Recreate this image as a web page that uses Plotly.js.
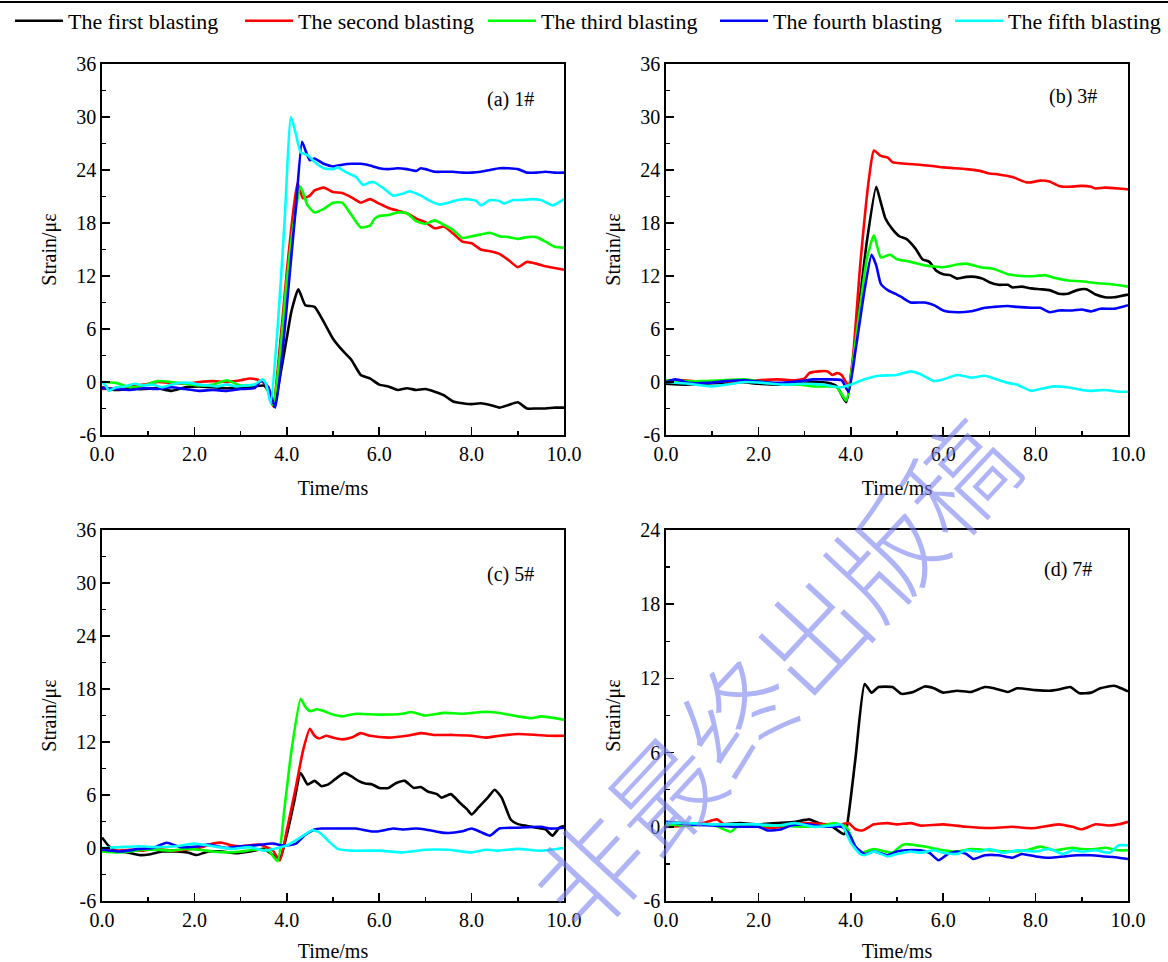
<!DOCTYPE html>
<html>
<head>
<meta charset="utf-8">
<script src="https://cdn.plot.ly/plotly-3.0.1.min.js"></script>
<style>
  html, body { margin: 0; padding: 0; background: #fff; }
  #chart { width: 1168px; height: 962px; }
</style>
</head>
<body>
<div id="chart"></div>
<script>
// ---------- Data (Time in ms, Strain in microstrain) ----------
const seriesNames = ["The first blasting", "The second blasting", "The third blasting", "The fourth blasting", "The fifth blasting"];
const panelLabels = ["(a) 1#", "(b) 3#", "(c) 5#", "(d) 7#"];
const xTickVals = [0, 2, 4, 6, 8, 10];
const xTickText = ["0.0", "2.0", "4.0", "6.0", "8.0", "10.0"];
const yTickValsABC = [-6, 0, 6, 12, 18, 24, 30, 36];
const yTickTextABC = ["-6", "0", "6", "12", "18", "24", "30", "36"];
const yTickValsD = [-6, 0, 6, 12, 18, 24];
const yTickTextD = ["-6", "0", "6", "12", "18", "24"];

// Panel (a) 1#
const a1_t = [0,0.3,0.6,0.9,1.2,1.5,1.8,2.1,2.4,2.7,3.0,3.3,3.5,3.6,3.72,3.85,4.0,4.1,4.25,4.4,4.6,4.8,5.0,5.2,5.4,5.6,5.8,6.0,6.2,6.4,6.6,6.8,7.0,7.2,7.4,7.6,7.8,8.0,8.2,8.4,8.6,8.8,9.0,9.2,9.4,9.6,9.8,10];
const a1_y = [-0.6,-0.9,-0.8,-0.8,-0.7,-1.0,-0.6,-0.5,-0.6,-0.7,-0.6,-0.5,-0.4,-1.0,-2.8,0.5,5.0,8.0,10.5,8.7,8.5,6.8,4.9,3.6,2.5,0.8,0.4,-0.3,-0.5,-0.9,-0.7,-0.9,-0.8,-1.1,-1.5,-2.2,-2.4,-2.5,-2.4,-2.6,-2.9,-2.6,-2.3,-3.0,-3.0,-3.0,-2.9,-2.9];
const a2_t = [0,0.3,0.6,0.9,1.2,1.5,1.8,2.1,2.4,2.7,3.0,3.2,3.4,3.55,3.7,3.85,4.0,4.1,4.23,4.35,4.5,4.6,4.8,5.0,5.2,5.4,5.6,5.8,6.0,6.2,6.4,6.6,6.8,7.0,7.2,7.4,7.6,7.8,8.0,8.2,8.4,8.6,8.8,9.0,9.2,9.4,9.6,9.8,10];
const a2_y = [-0.8,-0.7,-0.5,-0.3,0.0,-0.1,-0.2,0.0,0.1,0.0,0.2,0.4,0.2,-0.3,-2.7,4.0,12.5,17.5,22.5,20.8,21.1,21.7,22.0,21.5,21.4,20.9,20.3,20.7,20.2,19.7,19.4,19.1,18.5,18.1,17.4,17.6,16.8,15.9,15.7,15.0,14.8,14.5,13.8,13.0,13.6,13.4,13.1,12.9,12.7];
const a3_t = [0,0.3,0.6,0.9,1.2,1.5,1.8,2.1,2.4,2.7,3.0,3.3,3.5,3.7,3.85,4.0,4.15,4.3,4.45,4.6,4.8,5.0,5.2,5.4,5.6,5.8,5.9,6.0,6.2,6.4,6.6,6.8,7.0,7.2,7.4,7.6,7.8,8.0,8.2,8.4,8.6,8.8,9.0,9.2,9.4,9.6,9.8,10];
const a3_y = [0.0,-0.1,-0.6,-0.4,0.1,0.0,-0.2,-0.4,-0.3,0.2,-0.4,-0.3,0.2,-2.6,3.0,11.5,18.0,22.1,20.0,19.2,19.6,20.3,20.3,18.9,17.5,17.7,18.5,18.8,18.9,19.2,19.1,18.2,17.9,18.3,17.8,17.2,16.3,16.5,16.7,16.9,16.5,16.4,16.2,16.4,16.4,15.9,15.3,15.2];
const a4_t = [0,0.3,0.6,0.9,1.2,1.5,1.8,2.1,2.4,2.7,3.0,3.3,3.45,3.6,3.75,3.9,4.05,4.2,4.33,4.42,4.5,4.6,4.8,5.0,5.2,5.4,5.6,5.8,6.0,6.2,6.4,6.6,6.8,6.9,7.0,7.2,7.4,7.6,7.8,8.0,8.2,8.4,8.6,8.8,9.0,9.2,9.4,9.6,9.8,10];
const a4_y = [-0.7,-0.8,-0.9,-0.7,-0.8,-0.6,-0.8,-1.0,-0.9,-1.0,-0.8,-0.7,0.2,-0.6,-2.9,3.0,11.5,20.0,27.2,26.0,25.1,25.3,24.7,24.4,24.6,24.7,24.7,24.5,24.2,24.1,24.2,24.1,23.9,24.2,24.1,23.8,23.8,23.8,23.7,23.7,23.8,24.0,24.2,24.2,24.1,23.7,23.7,23.8,23.7,23.7];
const a5_t = [0,0.08,0.15,0.3,0.5,0.7,0.9,1.1,1.3,1.5,1.7,1.9,2.1,2.3,2.5,2.7,2.9,3.1,3.3,3.47,3.55,3.65,3.8,3.95,4.09,4.2,4.3,4.45,4.6,4.8,5.0,5.1,5.3,5.5,5.65,5.8,5.9,6.1,6.3,6.5,6.65,6.9,7.1,7.3,7.5,7.7,7.9,8.1,8.2,8.4,8.6,8.7,8.9,9.1,9.3,9.5,9.75,10];
const a5_y = [0.0,-0.4,-1.0,-0.6,-0.5,-0.2,-0.4,-0.3,-0.6,-0.3,-0.1,-0.1,-0.3,-0.4,-0.5,-0.3,-0.5,-0.4,-0.3,0.3,-0.2,-2.4,6.0,18.0,30.0,28.0,26.0,25.7,24.9,24.2,24.1,24.3,23.7,23.2,22.3,22.6,22.6,21.9,21.1,21.3,21.6,21.1,20.5,20.1,20.3,20.6,20.7,20.5,20.0,20.6,20.5,20.2,20.6,20.6,20.7,20.6,20.0,20.7];

// Panel (b) 3#
const b1_t = [0,0.4,0.8,1.2,1.6,2.0,2.4,2.8,3.2,3.5,3.7,3.9,4.05,4.2,4.35,4.55,4.65,4.75,4.9,5.05,5.2,5.4,5.55,5.7,5.85,6.0,6.15,6.3,6.5,6.7,6.85,7.0,7.2,7.4,7.5,7.7,7.9,8.1,8.3,8.5,8.7,8.9,9.1,9.3,9.5,9.7,10];
const b1_y = [-0.2,-0.3,-0.2,-0.1,0.0,-0.2,-0.3,-0.2,0.0,-0.1,-0.5,-2.3,2.5,9.5,16.0,22.1,20.3,18.5,17.3,16.5,16.2,15.1,13.9,13.6,12.6,12.2,12.1,11.7,11.9,11.9,11.7,11.3,11.0,11.0,10.7,10.8,10.6,10.5,10.4,10.0,10.0,10.4,10.5,9.9,9.6,9.6,9.9];
const b2_t = [0,0.4,0.8,1.2,1.6,2.0,2.4,2.8,3.0,3.1,3.3,3.5,3.6,3.7,3.8,3.95,4.05,4.2,4.4,4.5,4.65,4.8,4.9,5.2,5.5,6.0,6.5,6.8,7.0,7.2,7.5,7.8,7.9,8.1,8.3,8.5,8.7,9.0,9.2,9.3,9.5,9.8,10];
const b2_y = [0.2,0.2,0.0,0.1,0.0,0.2,0.3,0.2,0.4,1.0,1.2,1.2,0.8,1.0,0.8,-0.4,3.0,13.0,23.3,26.2,25.6,25.4,24.9,24.7,24.6,24.3,24.1,23.9,23.6,23.5,23.2,22.6,22.6,22.8,22.7,22.2,22.1,22.2,22.1,21.9,22.0,21.9,21.8];
const b3_t = [0,0.4,0.8,1.2,1.7,2.1,2.5,2.9,3.2,3.5,3.7,3.9,4.05,4.2,4.35,4.5,4.65,4.85,5.0,5.3,5.6,6.0,6.3,6.5,6.8,7.1,7.4,7.7,8.0,8.2,8.4,8.7,9.0,9.3,9.6,10];
const b3_y = [0.2,0.1,0.1,0.2,0.3,0.0,-0.2,-0.3,-0.5,-0.5,-0.6,-2.1,2.5,8.5,14.0,16.6,14.1,14.4,13.9,13.6,13.2,13.0,13.3,13.4,13.0,12.8,12.2,12.0,12.0,12.1,11.8,11.5,11.4,11.2,11.1,10.8];
const b4_t = [0,0.2,0.5,0.9,1.3,1.7,2.1,2.5,2.9,3.2,3.5,3.8,3.95,4.1,4.3,4.45,4.55,4.65,4.8,5.0,5.1,5.3,5.6,5.8,6.0,6.3,6.6,6.9,7.1,7.4,7.6,7.9,8.1,8.3,8.5,8.8,9.0,9.2,9.4,9.7,10];
const b4_y = [0.0,0.3,-0.1,-0.1,0.1,0.2,0.0,-0.1,0.1,0.3,0.3,0.2,-1.1,3.5,10.5,14.4,13.2,11.1,10.4,9.9,9.6,9.0,9.0,8.7,8.1,7.9,8.0,8.4,8.5,8.6,8.5,8.4,8.4,7.9,8.1,8.1,8.2,8.0,8.3,8.3,8.7];
const b5_t = [0,0.5,1.0,1.3,1.7,2.1,2.5,3.0,3.4,3.8,4.0,4.3,4.6,5.0,5.3,5.5,5.8,6.0,6.3,6.6,6.9,7.1,7.4,7.6,7.9,8.1,8.4,8.7,9.0,9.2,9.5,9.8,10];
const b5_y = [0.0,-0.2,-0.5,-0.3,0.0,-0.1,-0.3,-0.2,-0.3,-0.6,-0.3,0.3,0.7,0.8,1.2,0.9,0.1,0.3,0.8,0.5,0.7,0.4,-0.1,-0.3,-1.0,-0.8,-0.5,-0.6,-0.9,-1.0,-0.9,-1.1,-1.1];

// Panel (c) 5#
const c1_t = [0,0.15,0.3,0.55,0.8,1.05,1.3,1.6,1.85,2.05,2.3,2.6,2.9,3.2,3.5,3.7,3.85,4.0,4.15,4.3,4.45,4.6,4.75,4.9,5.05,5.25,5.4,5.55,5.7,5.85,6.0,6.2,6.35,6.55,6.75,6.9,7.05,7.25,7.35,7.55,7.75,7.9,8.0,8.15,8.35,8.5,8.65,8.85,9.0,9.2,9.4,9.6,9.75,9.9,10];
const c1_y = [1.2,0.2,-0.3,-0.5,-0.8,-0.7,-0.4,-0.4,-0.5,-0.8,-0.4,-0.4,-0.6,-0.4,-0.1,-0.8,-1.2,1.5,5.0,8.5,7.2,7.6,7.0,7.2,7.8,8.5,8.1,7.6,7.3,7.2,6.8,6.8,7.3,7.6,6.8,6.9,6.4,6.1,5.7,6.1,5.1,4.4,3.8,4.6,5.7,6.6,5.7,3.2,2.7,2.5,2.3,2.1,1.4,2.3,2.5];
const c2_t = [0,0.3,0.6,0.9,1.2,1.5,1.8,2.1,2.4,2.6,2.8,3.0,3.2,3.4,3.6,3.7,3.85,4.0,4.2,4.35,4.5,4.6,4.7,4.85,5.0,5.2,5.4,5.6,5.8,6.2,6.6,6.9,7.2,7.6,8.0,8.3,8.6,9.0,9.4,9.7,10];
const c2_y = [-0.3,-0.3,-0.2,-0.3,-0.1,-0.3,-0.2,0.0,0.5,0.6,0.3,0.2,0.3,0.4,0.0,-0.3,-1.4,2.0,7.0,11.0,13.5,12.7,12.4,12.7,12.5,12.3,12.5,13.0,12.7,12.5,12.7,13.0,12.8,12.8,12.7,12.5,12.7,12.9,12.8,12.7,12.7];
const c3_t = [0,0.3,0.6,0.9,1.2,1.5,1.8,2.1,2.4,2.7,3.0,3.3,3.6,3.8,3.95,4.1,4.3,4.4,4.5,4.65,4.8,5.0,5.2,5.5,6.0,6.5,6.7,7.0,7.4,7.8,8.2,8.4,8.7,9.0,9.3,9.5,9.8,10];
const c3_y = [-0.4,-0.5,-0.4,-0.2,-0.2,-0.3,-0.1,-0.2,-0.4,-0.5,-0.4,-0.2,-0.3,-1.5,4.5,11.0,16.9,16.0,15.5,15.7,15.5,15.1,14.9,15.2,15.1,15.2,15.4,15.0,15.3,15.2,15.4,15.4,15.2,14.9,14.7,14.9,14.7,14.5];
const c4_t = [0,0.4,0.8,1.1,1.4,1.7,2.1,2.3,2.7,3.0,3.3,3.7,3.9,4.0,4.2,4.4,4.6,4.75,5.0,5.5,5.8,6.0,6.3,6.5,6.8,7.0,7.3,7.5,7.8,8.0,8.2,8.4,8.6,9.0,9.5,9.7,10];
const c4_y = [-0.2,-0.4,-0.1,0.0,0.6,0.1,0.2,0.4,0.0,0.2,0.3,0.5,0.3,0.3,0.5,1.5,2.1,2.2,2.2,2.2,1.9,1.9,2.2,2.1,2.2,2.1,1.8,1.7,1.9,2.2,1.8,1.4,2.2,2.3,2.4,2.2,2.3];
const c5_t = [0,0.4,0.8,1.2,1.6,2.0,2.4,2.8,3.2,3.5,3.8,4.0,4.3,4.55,4.7,4.9,5.1,5.4,6.0,6.5,7.0,7.5,8.0,8.3,8.6,9.0,9.5,10];
const c5_y = [0.0,0.1,0.2,0.1,0.2,0.5,0.2,-0.1,0.1,-0.3,0.0,0.3,1.2,2.0,1.8,0.8,-0.1,-0.3,-0.3,-0.5,-0.2,-0.2,-0.5,-0.2,-0.3,-0.1,-0.3,0.0];

// Panel (d) 7#
const d1_t = [0,0.4,0.8,1.2,1.6,2.0,2.4,2.8,3.1,3.3,3.6,3.85,3.9,4.1,4.3,4.45,4.6,4.9,5.1,5.35,5.6,5.8,6.0,6.3,6.6,6.9,7.1,7.4,7.6,8.0,8.3,8.5,8.75,8.95,9.2,9.4,9.7,9.85,10];
const d1_y = [0.3,0.3,0.2,0.2,0.3,0.2,0.3,0.4,0.6,0.3,0.0,-0.6,-0.3,5.5,11.55,10.85,11.3,11.3,10.75,10.9,11.35,11.2,10.85,11.0,10.9,11.3,11.2,10.9,11.2,11.05,11.0,11.1,11.3,10.8,10.85,11.2,11.4,11.2,10.95];
const d2_t = [0,0.5,0.8,1.1,1.3,1.7,2.0,2.3,2.7,3.0,3.5,3.8,3.95,4.1,4.25,4.5,4.8,5.0,5.3,5.5,6.0,6.5,7.0,7.5,7.8,8.0,8.5,8.8,9.0,9.3,9.6,9.8,10];
const d2_y = [0.0,0.1,0.3,0.6,0.1,0.2,0.0,-0.1,0.1,0.3,0.2,0.2,0.3,-0.2,-0.3,0.2,0.3,0.2,0.3,0.1,0.2,0.0,-0.1,0.0,-0.1,-0.1,0.2,0.0,-0.2,0.2,0.1,0.2,0.4];
const d3_t = [0,0.5,1.0,1.4,1.6,2.0,2.5,3.0,3.4,3.65,3.9,4.1,4.2,4.5,4.9,5.1,5.2,5.6,6.0,6.3,6.6,7.0,7.4,7.8,8.1,8.4,8.6,8.8,9.0,9.3,9.5,9.8,10];
const d3_y = [0.2,0.1,0.2,-0.4,0.2,0.1,0.1,0.0,0.1,0.3,0.0,-1.6,-2.1,-1.8,-2.1,-1.5,-1.4,-1.6,-1.9,-2.0,-1.8,-1.9,-2.0,-1.9,-1.6,-1.9,-1.8,-1.7,-1.8,-1.8,-1.7,-1.9,-1.9];
const d4_t = [0,0.5,1.0,1.5,2.0,2.2,2.5,2.7,3.0,3.5,3.8,3.95,4.1,4.3,4.5,4.8,5.0,5.2,5.5,5.7,5.9,6.1,6.3,6.5,6.65,6.9,7.2,7.5,7.7,8.0,8.3,8.6,8.9,9.2,9.5,9.8,10];
const d4_y = [0.4,0.2,0.1,0.0,0.0,-0.3,-0.2,0.1,0.2,0.0,0.0,-0.5,-1.6,-2.2,-2.0,-2.3,-2.0,-1.9,-1.9,-2.1,-2.7,-2.2,-2.0,-2.2,-2.6,-2.3,-2.3,-2.5,-2.2,-2.4,-2.5,-2.4,-2.3,-2.3,-2.4,-2.5,-2.6];
const d5_t = [0,0.5,1.0,1.5,2.0,2.4,2.8,3.2,3.6,3.8,4.0,4.2,4.3,4.5,4.8,5.0,5.3,5.5,5.8,6.0,6.3,6.5,6.8,7.0,7.3,7.6,8.0,8.3,8.6,8.8,9.0,9.3,9.6,9.8,10];
const d5_y = [0.3,0.3,0.2,0.2,0.2,0.1,0.3,0.0,0.1,0.2,-1.3,-2.2,-2.3,-2.0,-2.4,-2.2,-2.0,-2.1,-1.9,-2.1,-2.2,-1.9,-2.0,-1.8,-2.1,-1.9,-2.0,-1.8,-2.2,-1.9,-2.0,-1.9,-2.1,-1.5,-1.5];

// ---------- Styling ----------
const colors = ["#000000", "#ff0000", "#00ff00", "#0000ff", "#00ffff"];
const SERIF = "'Liberation Serif', 'Times New Roman', Times, serif";
const legendIds = ["legend", "legend2", "legend3", "legend4", "legend5"];
const legendTextX = [70, 300, 543, 775, 1010];   // left edge of each legend text, px
const ITEMW = 48;

const panels = [
  [[a1_t,a1_y],[a2_t,a2_y],[a3_t,a3_y],[a4_t,a4_y],[a5_t,a5_y]],
  [[b1_t,b1_y],[b2_t,b2_y],[b3_t,b3_y],[b4_t,b4_y],[b5_t,b5_y]],
  [[c1_t,c1_y],[c2_t,c2_y],[c3_t,c3_y],[c4_t,c4_y],[c5_t,c5_y]],
  [[d1_t,d1_y],[d2_t,d2_y],[d3_t,d3_y],[d4_t,d4_y],[d5_t,d5_y]]
];

const traces = [];
panels.forEach((series, p) => {
  const suffix = p === 0 ? "" : String(p + 1);
  series.forEach((s, i) => {
    traces.push({
      type: "scatter", mode: "lines",
      x: s[0], y: s[1],
      name: seriesNames[i],
      legend: legendIds[i],
      legendgroup: "g" + i,
      showlegend: p === 0,
      xaxis: "x" + suffix, yaxis: "y" + suffix,
      line: { color: colors[i], width: 2.6, shape: "spline", smoothing: 0.5 },
      hoverinfo: "skip"
    });
  });
});

const xDomL = [102/1168, 564/1168], xDomR = [666/1168, 1128/1168];
const yDomT = [1 - 435/962, 1 - 64/962], yDomB = [1 - 901/962, 1 - 530/962];

function xAxis(dom, anchor) {
  return {
    domain: dom, anchor: anchor, range: [0, 10],
    tickmode: "array", tickvals: xTickVals, ticktext: xTickText,
    ticks: "inside", ticklen: 8, tickwidth: 1.5, tickcolor: "#000",
    minor: { tickmode: "linear", tick0: 0, dtick: 1, ticks: "inside", ticklen: 4, tickwidth: 1.5, tickcolor: "#000" },
    showline: true, linewidth: 1.8, linecolor: "#000", mirror: true,
    showgrid: false, zeroline: false, automargin: false,
    tickfont: { family: SERIF, size: 20, color: "#000" },
    title: { text: "Time/ms", font: { family: SERIF, size: 20, color: "#000" }, standoff: 17 }
  };
}
function yAxis(dom, anchor, range, vals, text, dminor) {
  return {
    domain: dom, anchor: anchor, range: range,
    tickmode: "array", tickvals: vals, ticktext: text,
    ticks: "inside", ticklen: 8, tickwidth: 1.5, tickcolor: "#000",
    minor: { tickmode: "linear", tick0: 0, dtick: dminor, ticks: "inside", ticklen: 4, tickwidth: 1.5, tickcolor: "#000" },
    showline: true, linewidth: 1.8, linecolor: "#000", mirror: true,
    showgrid: false, zeroline: false, automargin: false,
    tickfont: { family: SERIF, size: 20, color: "#000" },
    title: { text: "Strain/με", font: { family: SERIF, size: 20, color: "#000" }, standoff: 14 }
  };
}

const labelPos = [
  { x: 8.85, y: 32.0, xref: "x", yref: "y" },
  { x: 8.8, y: 32.3, xref: "x2", yref: "y2" },
  { x: 8.85, y: 31.0, xref: "x3", yref: "y3" },
  { x: 8.7, y: 20.8, xref: "x4", yref: "y4" }
];

const annotations = labelPos.map((p, i) => ({
  x: p.x, y: p.y, xref: p.xref, yref: p.yref, text: panelLabels[i], showarrow: false,
  font: { family: SERIF, size: 20, color: "#000" }, xanchor: "center", yanchor: "middle"
}));

annotations.push({
  x: 771/1168, y: 1 - 672/962, xref: "paper", yref: "paper",
  text: "非最终出版稿", showarrow: false, textangle: -47,
  font: { family: "Noto Sans CJK SC", size: 108, weight: 300, color: "rgba(120,130,240,0.6)" },
  xanchor: "center", yanchor: "middle"
});

const layout = {
  width: 1168, height: 962,
  margin: { l: 0, r: 0, t: 0, b: 0 },
  paper_bgcolor: "#fff", plot_bgcolor: "#fff",
  showlegend: true,
  xaxis: xAxis(xDomL, "y"), yaxis: yAxis(yDomT, "x", [-6, 36], yTickValsABC, yTickTextABC, 3),
  xaxis2: xAxis(xDomR, "y2"), yaxis2: yAxis(yDomT, "x2", [-6, 36], yTickValsABC, yTickTextABC, 3),
  xaxis3: xAxis(xDomL, "y3"), yaxis3: yAxis(yDomB, "x3", [-6, 36], yTickValsABC, yTickTextABC, 3),
  xaxis4: xAxis(xDomR, "y4"), yaxis4: yAxis(yDomB, "x4", [-6, 24], yTickValsD, yTickTextD, 3),
  annotations: annotations,
  shapes: [
    { type: "line", xref: "paper", yref: "paper", x0: 0, x1: 1, y0: 1 - 2/962, y1: 1 - 2/962, line: { color: "#000", width: 2 } }
  ]
};

legendIds.forEach((id, i) => {
  layout[id] = {
    orientation: "h",
    x: (legendTextX[i] - ITEMW - 12) / 1168, xanchor: "left",
    y: 1 - 21/962, yanchor: "middle",
    font: { family: SERIF, size: 22, color: "#000" },
    bgcolor: "rgba(0,0,0,0)", borderwidth: 0, itemwidth: ITEMW
  };
});

Plotly.newPlot("chart", traces, layout, { displayModeBar: false, staticPlot: true });
</script>
</body>
</html>
